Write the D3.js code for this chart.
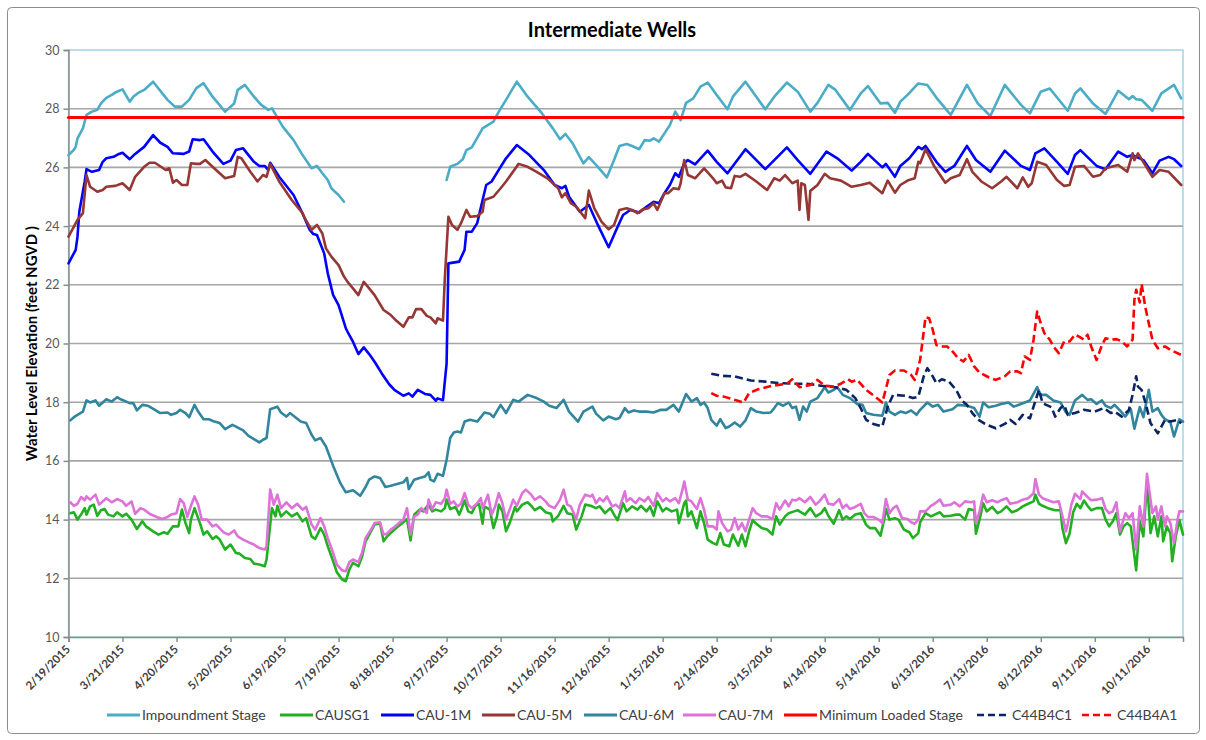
<!DOCTYPE html>
<html><head><meta charset="utf-8">
<script src="https://cdn.jsdelivr.net/npm/d3@7"></script>
<style>
body{margin:0;background:#fff;}
svg{display:block;font-family:Lato,"Open Sans",sans-serif;}
</style>
</head><body>
<svg id="chart" width="1206" height="740"></svg>
<script>
// ---------------- DATA ----------------
const chartTitle = "Intermediate Wells";
const yTitle = "Water Level Elevation (feet NGVD )";
const startDate = "2015-02-19";   // day 0
const lastDay = 619;              // 10/30/2016
const xTickLabels = ["2/19/2015","3/21/2015","4/20/2015","5/20/2015","6/19/2015","7/19/2015","8/18/2015","9/17/2015","10/17/2015","11/16/2015","12/16/2015","1/15/2016","2/14/2016","3/15/2016","4/14/2016","5/14/2016","6/13/2016","7/13/2016","8/12/2016","9/11/2016","10/11/2016"];
const yTickValues = [10,12,14,16,18,20,22,24,26,28,30];

// days are counted from startDate
const impDays = [0,3,4,5,8,10,13,16,18,21,24,26,30,34,36,39,42,47,55,59,63,67,71,75,80,87,92,94,98,103,107,111,113,119,125,130,135,138,141,144,146,148,150,153,180,
210,212,216,219,221,224,230,236,239,243,249,255,263,269,273,276,280,286,289,294,299,303,306,310,313,317,320,323,325,328,331,334,337,340,343,347,351,355,360,366,369,376,387,392,399,405,412,416,422,426,434,440,444,451,455,459,462,466,472,477,483,490,499,505,512,520,529,534,540,545,555,559,562,569,576,583,589,591,593,596,602,607,614,618];
const impVals = [26.42,26.6,26.7,26.99,27.33,27.79,27.9,27.96,28.18,28.37,28.47,28.55,28.66,28.24,28.41,28.55,28.64,28.92,28.3,28.07,28.07,28.3,28.7,28.87,28.41,27.9,28.18,28.64,28.81,28.41,28.13,27.96,28.01,27.39,26.93,26.42,25.97,26.05,25.8,25.57,25.29,25.17,25.06,24.83,null,
25.57,26.02,26.12,26.28,26.59,26.68,27.33,27.56,27.9,28.3,28.92,28.41,27.84,27.33,26.96,27.14,26.82,26.14,26.35,26.02,25.66,26.25,26.73,26.8,26.73,26.62,26.93,26.91,26.99,26.88,27.16,27.44,27.9,27.61,28.2,28.35,28.75,28.89,28.47,27.98,28.41,28.92,27.98,28.41,28.89,28.58,27.9,28.2,28.81,28.64,27.96,28.52,28.77,28.18,28.2,27.86,28.24,28.47,28.86,28.81,28.3,27.79,28.81,28.18,27.75,28.81,28.13,27.84,28.58,28.69,27.93,28.52,28.69,28.18,27.82,28.61,28.32,28.43,28.32,28.3,27.93,28.52,28.81,28.35];

const sg1Days = [1,3,5,7,9,10,12,14,16,18,20,22,25,27,30,32,35,38,41,43,47,50,53,55,58,61,63,65,67,68,70,73,75,77,80,82,84,87,90,93,95,98,101,103,106,109,110,113,115,116,118,121,124,127,130,132,135,137,140,142,144,147,149,152,154,156,158,161,163,165,168,170,173,175,177,180,182,185,188,190,192,195,197,200,202,204,207,209,210,212,215,217,218,220,222,224,226,228,230,231,234,236,238,239,241,243,245,248,249,252,255,257,259,262,265,268,269,272,275,277,280,282,285,287,290,293,295,298,301,303,305,308,310,313,316,318,321,323,325,327,330,332,335,338,339,342,343,344,346,349,351,353,355,358,360,362,364,367,369,372,374,376,378,380,382,385,388,391,393,395,398,400,403,405,406,409,412,415,418,420,422,425,428,430,432,434,437,440,443,445,448,451,453,454,456,459,461,464,467,469,472,473,476,479,481,484,486,490,493,495,498,500,503,504,506,508,510,513,516,518,521,524,527,530,533,536,537,539,541,544,548,551,552,554,556,558,560,562,564,566,568,571,574,576,578,580,582,584,586,588,590,593,595,597,599,601,603,605,607,608,610,612,613,615,617,619];
const sg1Vals = [14.22,14.25,14.0,14.17,14.39,14.17,14.45,14.51,14.13,14.32,14.36,14.17,14.11,14.25,14.11,14.2,14.0,13.68,13.94,13.77,13.6,13.49,13.57,13.52,13.77,13.77,14.34,13.88,13.54,14.0,14.39,13.88,13.49,13.6,13.34,13.43,13.32,12.98,13.15,12.86,12.84,12.69,12.66,12.5,12.47,12.41,12.64,14.39,14.11,14.47,14.11,14.28,14.11,14.22,13.94,14.05,13.43,13.34,13.71,13.49,13.09,12.58,12.21,11.96,11.9,12.3,12.53,12.41,12.73,13.26,13.6,13.83,13.88,13.26,13.43,13.6,13.71,13.86,14.02,13.29,14.17,14.34,14.28,14.51,14.28,14.34,14.28,14.39,14.68,14.36,14.43,14.17,14.32,14.65,14.28,14.22,14.47,14.54,13.86,14.45,14.34,13.71,14.11,14.51,14.28,13.6,13.88,14.43,14.28,14.51,14.59,14.47,14.32,14.43,14.25,14.2,13.94,14.13,14.47,14.22,14.17,13.66,14.11,14.51,14.47,14.39,14.45,14.22,14.39,14.17,13.98,14.56,14.28,14.45,14.34,14.47,14.28,14.45,14.13,14.62,14.28,14.39,14.28,14.34,13.88,14.56,14.65,14.11,14.28,13.71,14.28,13.88,13.32,13.2,13.15,13.54,13.15,13.09,13.49,13.11,13.49,13.09,13.6,13.98,13.86,13.71,13.66,13.49,14.11,13.83,14.11,14.22,14.28,14.32,14.28,14.17,14.39,14.11,14.22,14.39,14.13,13.86,14.32,14.0,14.11,14.02,14.17,14.22,13.83,13.71,13.71,13.45,14.0,14.36,14.0,14.05,14.0,13.66,13.57,13.37,13.54,13.91,14.22,14.11,14.17,14.25,14.11,14.13,14.17,14.17,14.0,14.36,14.32,13.52,14.0,14.56,14.28,14.43,14.22,14.28,14.45,14.25,14.32,14.45,14.54,14.62,14.85,14.54,14.47,14.39,14.32,14.32,13.71,13.2,13.52,14.25,14.54,14.39,14.65,14.47,14.32,14.39,14.39,14.0,13.77,13.94,14.22,13.49,13.77,13.88,13.77,12.27,13.94,13.43,15.3,13.54,14.11,13.43,14.11,13.26,13.77,13.54,12.58,13.43,13.98,13.49];

const m1Days = [0,4,5,6,9,10,13,17,19,21,25,28,30,34,37,42,47,51,55,58,64,67,69,73,75,80,86,90,93,97,103,106,109,111,112,117,125,130,134,136,138,142,144,147,150,154,155,158,161,164,167,170,174,178,181,186,189,191,194,198,201,204,205,208,210,211,217,220,221,224,227,230,232,235,240,243,249,256,264,270,274,276,278,284,289,294,300,305,308,312,317,321,325,328,331,334,337,339,342,344,348,355,360,366,369,376,387,392,399,405,412,421,427,435,440,444,452,454,459,462,467,472,474,476,482,487,492,499,504,512,520,529,534,537,542,549,555,559,562,571,576,583,588,591,597,602,606,611,614,618];
const m1Vals = [22.73,23.19,23.64,24.49,25.52,25.94,25.85,25.91,26.19,26.31,26.36,26.46,26.5,26.28,26.46,26.7,27.1,26.84,26.7,26.48,26.46,26.54,26.96,26.93,26.96,26.54,26.12,26.23,26.59,26.65,26.19,26.05,26.05,25.91,26.16,25.68,25.06,24.43,23.87,23.73,23.7,23.07,22.39,21.65,21.31,20.52,20.4,20.06,19.64,19.87,19.64,19.38,18.98,18.62,18.42,18.22,18.3,18.19,18.42,18.28,18.25,18.05,18.13,18.07,19.32,22.73,22.79,23.19,23.81,23.81,24.1,24.89,25.4,25.52,26.02,26.31,26.76,26.42,25.91,25.4,25.29,25.37,25.0,24.49,24.72,24.04,23.28,23.98,24.38,24.55,24.46,24.66,24.83,24.78,25.12,25.4,25.8,25.68,26.14,26.25,26.1,26.57,26.19,25.8,26.05,26.62,25.94,26.25,26.68,26.25,25.78,26.54,26.31,25.89,26.19,26.46,26.0,26.12,25.68,26.05,26.31,26.7,26.62,26.73,26.19,25.85,26.05,26.73,26.25,25.85,26.57,26.05,25.91,26.48,26.65,26.19,25.78,26.42,26.59,26.05,25.94,26.54,26.36,26.42,26.25,25.8,26.23,26.36,26.28,26.05];

const m5Days = [0,5,8,10,12,16,19,21,26,30,34,37,42,45,48,54,56,58,60,63,66,68,71,73,76,80,87,92,94,96,101,105,108,110,112,117,124,130,131,135,138,141,143,146,150,153,155,158,161,164,167,170,175,179,182,186,189,191,193,196,199,201,204,205,208,209,211,213,216,218,221,223,227,230,231,236,240,243,250,255,260,266,272,274,276,279,282,287,289,292,296,300,303,306,310,313,316,319,322,325,327,331,333,336,339,340,342,344,348,353,358,360,363,365,368,370,373,376,382,388,392,395,398,402,405,406,407,409,411,412,416,420,423,429,435,440,445,452,455,459,462,466,470,472,473,476,481,487,490,495,499,502,507,513,518,521,527,530,533,535,538,543,549,553,556,559,564,569,573,576,583,588,591,592,594,598,602,606,611,618];
const m5Vals = [23.64,24.21,24.44,25.74,25.34,25.17,25.23,25.34,25.37,25.46,25.23,25.68,26.02,26.16,26.16,25.91,25.97,25.48,25.57,25.4,25.4,26.14,26.12,26.12,26.25,26.02,25.63,25.71,26.36,26.31,25.85,25.52,25.74,25.68,26.12,25.52,24.89,24.44,24.3,23.87,24.04,23.75,23.24,22.96,22.67,22.28,22.1,21.88,21.65,22.1,21.88,21.65,21.14,20.97,20.78,20.57,20.89,20.89,21.17,21.17,20.94,20.89,20.69,20.86,20.78,22.2,24.32,24.04,23.87,24.1,24.55,24.32,24.34,24.49,24.89,25.0,25.29,25.52,26.12,26.02,25.85,25.63,25.29,24.98,25.12,24.78,24.66,24.27,25.21,24.61,24.15,23.89,24.04,24.55,24.61,24.55,24.44,24.57,24.61,24.78,24.55,25.12,25.12,25.29,25.26,25.46,26.25,25.74,25.63,25.97,25.63,25.46,25.55,25.32,25.29,25.71,25.68,25.78,25.52,25.23,25.63,25.55,25.74,25.46,25.55,24.55,25.46,25.4,24.21,25.2,25.4,25.78,25.63,25.55,25.34,25.4,25.48,25.12,25.55,25.14,25.4,25.55,25.63,26.19,26.14,26.62,26.02,25.48,25.63,25.74,26.28,25.85,25.52,25.29,25.52,25.68,25.29,25.66,25.34,25.46,26.19,26.08,25.57,25.37,25.4,26.02,26.05,25.68,25.74,25.97,26.08,25.85,26.48,26.25,26.48,26.08,25.68,25.91,25.85,25.4];

const m6Days = [1,3,5,8,10,12,15,17,21,24,27,29,34,36,38,41,44,48,51,55,57,60,62,65,67,70,72,75,78,81,84,87,91,93,97,100,103,106,108,110,112,114,116,118,121,123,126,129,132,135,137,140,143,147,151,154,158,162,165,167,170,173,176,179,183,186,188,189,192,195,198,200,201,203,205,208,210,212,214,216,218,220,223,227,229,231,234,236,240,243,247,250,255,260,264,267,271,275,278,283,286,291,293,297,300,304,306,309,311,314,317,321,325,329,332,336,339,343,346,349,351,353,355,357,360,362,365,367,370,373,376,379,382,386,390,392,394,397,400,402,404,406,408,410,412,416,420,422,425,427,430,434,438,441,443,447,452,454,456,459,462,465,468,471,473,477,480,483,486,491,494,499,503,506,508,511,515,518,522,525,529,534,538,540,543,547,551,554,556,559,563,566,568,571,574,576,579,581,584,587,590,592,595,597,600,602,605,607,609,612,614,616,617,619];
const m6Vals = [17.38,17.49,17.57,17.68,18.06,17.99,18.06,17.88,18.1,18.02,18.17,18.1,17.97,17.97,17.72,17.91,17.88,17.74,17.63,17.65,17.57,17.63,17.74,17.63,17.49,17.91,17.68,17.42,17.42,17.34,17.29,17.08,17.23,17.17,17.04,16.85,16.74,16.63,16.72,16.78,17.76,17.8,17.85,17.65,17.51,17.63,17.49,17.34,17.29,16.89,16.7,16.78,16.49,15.83,15.24,14.93,15.0,14.81,15.11,15.36,15.47,15.42,15.11,15.15,15.22,15.27,15.42,15.04,15.36,15.42,15.47,15.61,15.36,15.3,15.56,15.49,16.04,16.78,16.97,17.0,16.97,17.34,17.4,17.34,17.49,17.65,17.61,17.49,17.91,17.63,18.08,18.02,18.25,18.14,18.02,17.88,17.8,18.08,17.68,17.34,17.68,17.85,17.61,17.38,17.51,17.42,17.46,17.8,17.65,17.72,17.68,17.68,17.65,17.74,17.74,17.91,17.68,18.28,18.02,18.14,17.91,17.99,17.8,17.4,17.2,17.42,17.12,17.17,17.31,17.17,17.38,17.8,17.68,17.63,17.65,17.8,17.97,17.88,17.99,17.8,17.85,17.4,17.85,17.68,18.02,18.14,18.51,18.33,18.42,18.51,18.25,18.14,17.94,17.91,17.63,17.57,17.54,17.99,17.68,17.57,17.68,17.63,17.72,17.57,17.74,17.99,17.85,17.91,17.68,17.76,17.91,17.88,17.8,17.51,17.99,17.83,17.88,17.94,17.99,17.85,17.94,18.06,18.51,18.25,18.25,18.06,17.99,17.65,17.57,18.06,18.25,18.08,18.1,17.94,18.06,17.88,17.8,17.91,17.72,17.51,17.76,17.1,17.83,17.49,18.42,17.68,17.8,17.57,17.42,17.31,16.83,17.23,17.42,17.34];

const m7Days = [1,3,5,7,9,10,12,15,17,21,24,27,30,32,35,37,40,42,45,49,52,55,57,60,62,64,66,68,70,72,74,77,80,82,86,89,92,94,97,100,103,106,109,110,112,114,116,118,121,124,127,130,132,135,137,140,142,144,147,149,152,154,156,158,161,163,165,168,170,173,175,177,179,181,184,186,188,190,192,194,196,199,200,202,204,207,209,210,212,214,216,218,220,222,224,227,229,230,233,235,237,239,241,243,245,247,249,252,254,257,259,262,265,267,270,273,275,277,279,282,284,287,290,291,293,295,297,299,302,304,306,309,310,312,315,317,320,322,325,327,330,332,334,337,339,341,342,344,346,349,351,353,355,358,360,361,363,366,368,370,372,374,376,378,380,382,385,388,391,393,395,398,400,402,404,406,409,412,415,417,420,422,425,428,430,432,434,437,440,442,444,447,450,452,454,456,458,460,463,466,468,470,472,473,476,479,481,484,486,490,492,495,498,501,503,504,506,508,510,513,516,518,521,523,527,530,533,536,537,539,541,544,547,550,552,554,555,557,559,562,563,566,568,571,574,576,578,580,582,584,587,589,591,593,595,597,599,602,604,605,607,609,610,612,614,616,617,619];
const m7Vals = [14.59,14.47,14.54,14.77,14.66,14.79,14.68,14.85,14.51,14.73,14.59,14.7,14.62,14.47,14.62,14.2,14.39,14.34,14.2,14.09,14.02,14.09,14.17,14.22,14.7,14.56,14.09,14.47,14.79,14.51,14.0,14.0,13.77,13.83,13.57,13.49,13.63,13.43,13.32,13.23,13.15,13.03,12.98,13.09,15.02,14.51,14.85,14.39,14.59,14.39,14.54,14.34,14.43,13.83,13.66,14.05,13.77,13.37,12.86,12.47,12.27,12.24,12.55,12.64,12.55,12.86,13.37,13.66,13.88,13.91,13.49,13.52,13.66,13.75,13.91,14.0,14.39,13.49,14.11,14.17,14.39,14.22,14.68,14.36,14.59,14.54,14.73,15.02,14.54,14.62,14.45,14.54,14.9,14.51,14.39,14.56,14.73,14.39,14.85,14.17,14.45,14.9,14.56,14.0,14.34,14.68,14.47,14.9,15.02,14.85,14.68,14.79,14.62,14.47,14.39,14.68,15.02,14.51,14.45,14.02,14.51,14.85,14.79,14.85,14.56,14.73,14.62,14.79,14.45,14.51,14.39,14.96,14.62,14.73,14.56,14.73,14.62,14.77,14.47,14.9,14.62,14.73,14.62,14.73,14.56,15.02,15.3,14.68,14.62,14.36,14.73,14.34,13.77,13.77,13.66,14.28,13.88,13.6,13.66,14.05,13.66,13.88,13.6,14.0,14.39,14.22,14.11,14.11,14.02,14.56,14.34,14.65,14.45,14.68,14.65,14.73,14.59,14.77,14.51,14.62,14.85,14.54,14.51,14.7,14.39,14.51,14.36,14.43,14.54,14.22,14.09,14.09,14.0,13.88,14.7,14.22,14.39,14.47,14.05,14.02,13.91,13.86,14.0,14.28,14.28,14.47,14.54,14.68,14.47,14.51,14.59,14.45,14.62,14.59,14.62,13.88,14.28,14.85,14.59,14.66,14.59,14.66,14.73,14.54,14.59,14.68,14.73,14.9,15.38,14.85,14.73,14.66,14.59,14.62,14.13,13.6,13.86,14.51,14.88,14.7,14.96,14.77,14.66,14.68,14.73,14.36,14.22,14.28,14.59,13.6,14.22,14.05,14.22,12.98,14.45,13.77,15.56,14.22,14.45,14.0,14.45,13.77,14.11,13.88,13.2,14.0,14.28,14.28];

const minStageDays = [0,619];
const minStageVals = [27.7,27.7];

const c1Days = [357,363,370,379,387,395,403,410,418,426,432,437,440,443,447,452,455,458,465,469,472,475,477,480,482,485,489,493,496,499,502,505,509,515,520,523,526,530,534,536,539,541,543,546,548,551,553,555,559,564,570,575,579,581,585,589,591,593,594,596,598,601,605,607,609,612,616,618];
const c1Vals = [18.97,18.9,18.88,18.74,18.7,18.65,18.63,18.63,18.56,18.51,18.42,18.14,17.8,17.4,17.26,17.17,17.85,18.25,18.22,18.14,18.19,18.88,19.16,18.88,18.65,18.78,18.7,18.42,18.06,17.91,17.63,17.42,17.26,17.11,17.26,17.4,17.26,17.57,17.45,17.85,18.42,17.97,17.91,17.83,17.51,17.8,17.91,17.57,17.63,17.74,17.68,17.8,17.63,17.68,17.51,17.74,18.25,18.88,18.53,18.42,18.02,17.28,16.94,17.17,17.4,17.34,17.4,17.28];

const a1Days = [357,360,364,369,375,378,383,391,399,402,406,412,416,420,425,429,433,435,438,443,448,452,456,459,464,468,470,473,476,478,480,482,484,488,491,494,497,500,503,506,511,515,520,523,527,529,531,534,536,538,540,542,545,547,550,553,556,559,561,564,566,568,571,574,576,579,582,585,588,591,592,593,595,596,598,600,602,605,609,612,618];
const a1Vals = [18.31,18.22,18.19,18.1,17.99,18.31,18.44,18.56,18.63,18.78,18.51,18.59,18.76,18.56,18.53,18.63,18.78,18.7,18.76,18.42,18.19,17.99,18.93,19.08,19.08,18.93,18.76,19.44,20.9,20.86,20.47,19.95,19.9,19.9,19.73,19.5,19.39,19.61,19.22,19.01,18.85,18.76,18.88,19.05,19.05,18.99,19.56,19.44,20.13,21.09,20.69,20.35,20.13,19.9,19.67,20.07,20.07,20.3,20.24,20.13,20.3,19.9,19.44,19.95,20.18,20.13,20.15,20.07,19.9,20.13,21.49,21.83,21.4,22.03,21.26,20.69,20.13,19.84,19.9,19.78,19.61];

const seriesNames = ["Impoundment Stage","CAUSG1","CAU-1M","CAU-5M","CAU-6M","CAU-7M","Minimum Loaded Stage","C44B4C1","C44B4A1"];

// ---------------- RENDER ----------------
const svg = d3.select("#chart");
const plot = {left: 68.5, right: 1183, top: 50, bottom: 637};

const parseUTC = s => { const [y,m,d] = s.split("-").map(Number); return new Date(Date.UTC(y, m-1, d)); };
const start = parseUTC(startDate);
const dayToDate = d => d3.utcDay.offset(start, d);
const parseLabel = s => { const [m,d,y] = s.split("/").map(Number); return new Date(Date.UTC(y, m-1, d)); };

const x = d3.scaleUtc().domain([start, dayToDate(lastDay)]).range([plot.left, plot.right]);
const y = d3.scaleLinear().domain([10, 30]).range([plot.bottom, plot.top]);

// outer frame
svg.append("rect").attr("x", 7.5).attr("y", 7.5).attr("width", 1192).attr("height", 726)
  .attr("rx", 4).attr("fill", "#fff").attr("stroke", "#8c8c8c").attr("stroke-width", 1);

// title
svg.append("text").attr("x", 612).attr("y", 37).attr("text-anchor", "middle")
  .attr("font-size", 20).attr("font-weight", "bold").attr("fill", "#000").text(chartTitle);

// gridlines
const grid = svg.append("g");
grid.selectAll("line").data(yTickValues.filter(v => v > 10 && v < 30)).join("line")
  .attr("x1", plot.left).attr("x2", plot.right)
  .attr("y1", d => y(d)).attr("y2", d => y(d))
  .attr("stroke", "#a6a6a6").attr("stroke-width", 1.6);

// plot area border (light blue)
svg.append("rect").attr("x", plot.left).attr("y", plot.top)
  .attr("width", plot.right - plot.left).attr("height", plot.bottom - plot.top)
  .attr("fill", "none").attr("stroke", "#8cc8dc").attr("stroke-width", 1.2);

// y axis
const yAxis = d3.axisLeft(y).tickValues(yTickValues).tickSize(5).tickPadding(4).tickFormat(d3.format("d"));
const gy = svg.append("g").attr("transform", `translate(${plot.left},0)`).call(yAxis);
gy.select(".domain").attr("stroke", "#8c8c8c").attr("stroke-width", 1.5);
gy.selectAll(".tick line").attr("stroke", "#8c8c8c").attr("stroke-width", 1.5);
gy.selectAll(".tick text").attr("font-size", 12.5).attr("fill", "#595959").attr("font-family", "Lato,sans-serif");

// x axis
const xTickDates = xTickLabels.map(parseLabel);
const xAxis = d3.axisBottom(x).tickValues(xTickDates).tickSize(5)
  .tickFormat((d, i) => xTickLabels[i]);
const gx = svg.append("g").attr("transform", `translate(0,${plot.bottom})`).call(xAxis);
gx.select(".domain").attr("stroke", "#8c8c8c").attr("stroke-width", 1.5);
gx.selectAll(".tick line").attr("stroke", "#8c8c8c").attr("stroke-width", 1.5);
gx.selectAll(".tick text")
  .attr("font-size", 11.5).attr("font-weight", "bold").attr("fill", "#404040").attr("font-family", "Lato,sans-serif")
  .attr("text-anchor", "end").attr("dy", null).attr("y", 0)
  .attr("transform", "translate(2,13) rotate(-45)");

// y title
svg.append("text").attr("transform", `translate(37,${(plot.top + plot.bottom)/2}) rotate(-90)`)
  .attr("text-anchor", "middle").attr("font-size", 15).attr("font-weight", "bold").attr("fill", "#000")
  .text(yTitle);

// series
const series = [
  {name: seriesNames[0], days: impDays, vals: impVals, color: "#4bacc6", w: 2.6},
  {name: seriesNames[1], days: sg1Days, vals: sg1Vals, color: "#22b022", w: 2.6},
  {name: seriesNames[2], days: m1Days, vals: m1Vals, color: "#0000ff", w: 2.6},
  {name: seriesNames[3], days: m5Days, vals: m5Vals, color: "#953735", w: 2.6},
  {name: seriesNames[4], days: m6Days, vals: m6Vals, color: "#31859c", w: 2.6},
  {name: seriesNames[5], days: m7Days, vals: m7Vals, color: "#dd72d8", w: 2.6},
  {name: seriesNames[6], days: minStageDays, vals: minStageVals, color: "#ff0000", w: 3.2},
  {name: seriesNames[7], days: c1Days, vals: c1Vals, color: "#0c2461", w: 2.6, dash: "8,4"},
  {name: seriesNames[8], days: a1Days, vals: a1Vals, color: "#ff0000", w: 2.6, dash: "8,4"}
];

const line = d3.line()
  .defined(d => d.v !== null)
  .x(d => x(dayToDate(d.day)))
  .y(d => y(d.v));

const gLines = svg.append("g");
series.forEach(s => {
  const pts = s.days.map((d, i) => ({day: d, v: s.vals[i]}));
  gLines.append("path").datum(pts)
    .attr("d", line)
    .attr("fill", "none")
    .attr("stroke", s.color)
    .attr("stroke-width", s.w)
    .attr("stroke-linejoin", "round")
    .attr("stroke-linecap", s.dash ? "butt" : "round")
    .attr("stroke-dasharray", s.dash || null);
});

// legend
const legendX = [107, 280, 381, 482, 584, 683, 784, 977, 1082];
const legendY = 715;
const lg = svg.append("g");
series.forEach((s, i) => {
  const g = lg.append("g").attr("transform", `translate(${legendX[i]},${legendY})`);
  g.append("line").attr("x1", 0).attr("x2", 33).attr("y1", 0).attr("y2", 0)
    .attr("stroke", s.color).attr("stroke-width", s.dash ? 2.6 : 3)
    .attr("stroke-dasharray", s.dash ? "7,4" : null);
  g.append("text").attr("x", 35).attr("y", 0).attr("dy", "0.35em")
    .attr("font-size", 14).attr("fill", "#404040").text(s.name);
});
</script>
</body></html>
